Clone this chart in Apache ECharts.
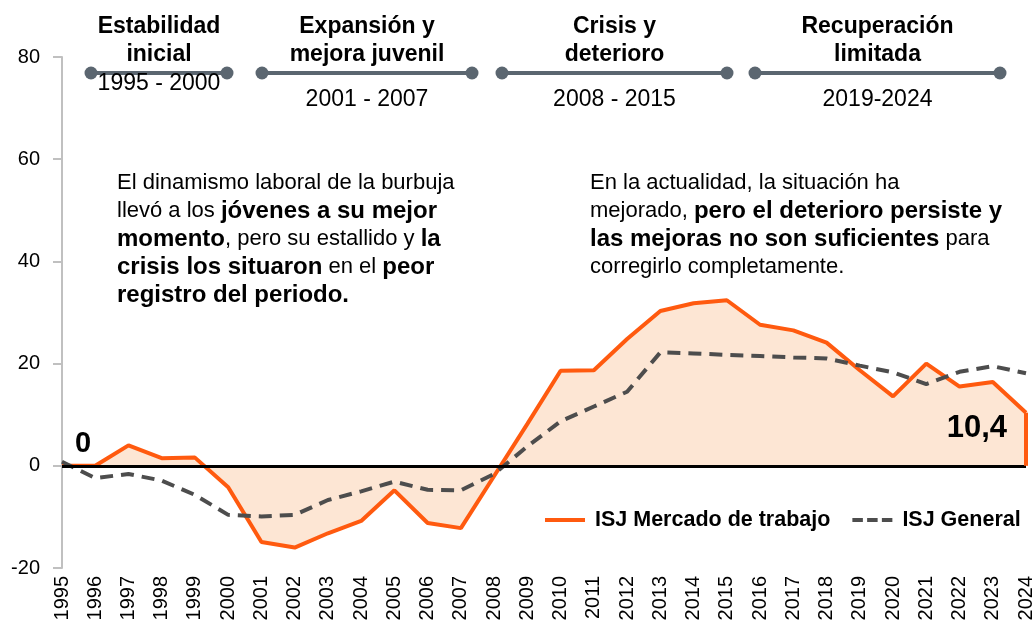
<!DOCTYPE html>
<html>
<head>
<meta charset="utf-8">
<script src="https://cdn.jsdelivr.net/npm/echarts@6/dist/echarts.min.js"></script>
<style>
  html, body { margin: 0; padding: 0; background: #ffffff; }
  #main { width: 1036px; height: 624px; }
</style>
</head>
<body>
<div id="main"></div>
<script>
// datos
var years = ['1995', '1996', '1997', '1998', '1999', '2000', '2001', '2002', '2003', '2004',
    '2005', '2006', '2007', '2008', '2009', '2010', '2011', '2012', '2013', '2014',
    '2015', '2016', '2017', '2018', '2019', '2020', '2021', '2022', '2023', '2024'];
var mercadoTrabajo = [0, 0, 4.0, 1.5, 1.6, -4.2, -14.9, -16.0, -13.2, -10.8,
    -4.8, -11.2, -12.2, -2.0, 8.2, 18.6, 18.7, 24.8, 30.3, 31.8,
    32.4, 27.6, 26.5, 24.1, 18.7, 13.6, 20.0, 15.5, 16.4, 10.4];
var isjGeneral = [0.8, -2.4, -1.6, -2.9, -5.7, -9.6, -9.9, -9.6, -6.7, -5.0,
    -3.1, -4.7, -4.8, -1.6, 3.8, 8.7, 11.6, 14.5, 22.2, 22.0,
    21.7, 21.5, 21.2, 21.0, 19.6, 18.3, 16.0, 18.4, 19.5, 18.1];
var yTicks = [-20, 0, 20, 40, 60, 80];
var seriesNames = ['ISJ Mercado de trabajo', 'ISJ General'];
var periodTitles = ['Estabilidad\ninicial', 'Expansión y\nmejora juvenil', 'Crisis y\ndeterioro', 'Recuperación\nlimitada'];
var periodYears = ['1995 - 2000', '2001 - 2007', '2008 - 2015', '2019-2024'];

var FONT = '"Liberation Sans", Arial, sans-serif';
var ORANGE = '#ff5a0f';
var GREY = '#4d4d4d';
var SLATE = '#5b6670';

// linea de tiempo de la cabecera
function buildTimeline() {
    var segs = [[91, 227], [262, 472], [502, 727], [755, 1000]];
    var yearsTop = [84, 100, 100, 100];
    var out = [];
    segs.forEach(function (s, i) {
        var cx = (s[0] + s[1]) / 2;
        out.push({ type: 'line', shape: { x1: s[0], y1: 73, x2: s[1], y2: 73 },
            style: { stroke: SLATE, lineWidth: 4 } });
        out.push({ type: 'circle', shape: { cx: s[0], cy: 73, r: 6.5 }, style: { fill: SLATE } });
        out.push({ type: 'circle', shape: { cx: s[1], cy: 73, r: 6.5 }, style: { fill: SLATE } });
        out.push({ type: 'text', x: cx, y: 41, style: {
            text: periodTitles[i], fill: '#000', font: 'bold 23px ' + FONT,
            align: 'center', verticalAlign: 'middle', lineHeight: 28 } });
        out.push({ type: 'text', x: cx, y: yearsTop[i], style: {
            text: periodYears[i], fill: '#000', font: '23px ' + FONT,
            align: 'center', verticalAlign: 'middle' } });
    });
    return out;
}

var richText = {
    n: { fontSize: 22, fontFamily: FONT, lineHeight: 28, fill: '#000' },
    b: { fontSize: 24, fontFamily: FONT, lineHeight: 28, fontWeight: 'bold', fill: '#000' }
};

var notaIzq = [
    '{n|El dinamismo laboral de la burbuja}',
    '{n|llevó a los }{b|jóvenes a su mejor}',
    '{b|momento}{n|, pero su estallido y }{b|la}',
    '{b|crisis los situaron}{n| en el }{b|peor}',
    '{b|registro del periodo.}'
].join('\n');
var notaDer = [
    '{n|En la actualidad, la situación ha}',
    '{n|mejorado, }{b|pero el deterioro persiste y}',
    '{b|las mejoras no son suficientes}{n| para}',
    '{n|corregirlo completamente.}'
].join('\n');

var last = mercadoTrabajo.length - 1;
var mercadoData = mercadoTrabajo.map(function (v, i) {
    if (i === 0) {
        return { value: v, label: { show: true, position: 'top', offset: [21, -2],
            formatter: '0', fontSize: 29, fontWeight: 'bold', color: '#000', fontFamily: FONT } };
    }
    if (i === last) {
        return { value: v, label: { show: true, position: 'left', offset: [-14, 16],
            formatter: function (p) { return String(p.value).replace('.', ','); },
            fontSize: 31, fontWeight: 'bold', color: '#000', fontFamily: FONT } };
    }
    return v;
});

var chart = echarts.init(document.getElementById('main'));
var option = {
    backgroundColor: '#ffffff',
    animation: false,
    grid: { left: 62, right: 5, top: 57, bottom: 56, containLabel: false },
    legend: {
        data: [
            { name: seriesNames[0], icon: 'path://M0,0h40v4h-40z' },
            { name: seriesNames[1], icon: 'path://M0,0h10.5v4h-10.5z M14.75,0h10.5v4h-10.5z M29.5,0h10.5v4h-10.5z' }
        ],
        left: 540, top: 504,
        itemWidth: 40, itemHeight: 4, itemGap: 22,
        textStyle: { fontSize: 21.5, fontWeight: 'bold', color: '#000', fontFamily: FONT, padding: [0, 0, 0, 5] }
    },
    xAxis: {
        type: 'category',
        data: years,
        boundaryGap: false,
        axisLine: { show: false },
        axisTick: { show: false },
        axisLabel: { rotate: 90, interval: 0, margin: 8, fontSize: 20, color: '#000', fontFamily: FONT }
    },
    yAxis: {
        type: 'value',
        min: yTicks[0], max: yTicks[yTicks.length - 1], interval: 20,
        splitLine: { show: false },
        axisLine: { show: true, lineStyle: { color: '#c0c0c0', width: 2 } },
        axisTick: { show: true, length: 9, lineStyle: { color: '#c0c0c0', width: 2 } },
        axisLabel: { margin: 22, fontSize: 20, color: '#000', fontFamily: FONT }
    },
    graphic: buildTimeline().concat([
        { type: 'text', x: 117, y: 169, style: { text: notaIzq, rich: richText, fill: '#000' } },
        { type: 'text', x: 590, y: 169, style: { text: notaDer, rich: richText, fill: '#000' } }
    ]),
    series: [
        {
            name: 'cero',
            type: 'line',
            data: [],
            z: 1,
            markLine: {
                silent: true, symbol: 'none', label: { show: false },
                lineStyle: { color: '#000', width: 3, type: 'solid' },
                data: [{ yAxis: 0 }]
            }
        },
        {
            name: seriesNames[0],
            type: 'line',
            data: mercadoData,
            z: 3,
            symbol: 'circle',
            symbolSize: 0,
            showAllSymbol: true,
            color: ORANGE,
            lineStyle: { color: ORANGE, width: 4 },
            areaStyle: { color: '#fde6d4', origin: 0, opacity: 1 },
            markLine: {
                silent: true, symbol: 'none', label: { show: false },
                lineStyle: { color: ORANGE, width: 4, type: 'solid' },
                data: [[{ coord: [years[last], 0] }, { coord: [years[last], mercadoTrabajo[last]] }]]
            }
        },
        {
            name: seriesNames[1],
            type: 'line',
            data: isjGeneral,
            z: 4,
            symbol: 'none',
            color: GREY,
            lineStyle: { color: GREY, width: 4, type: [13, 8] }
        }
    ]
};
chart.setOption(option);
</script>
</body>
</html>
